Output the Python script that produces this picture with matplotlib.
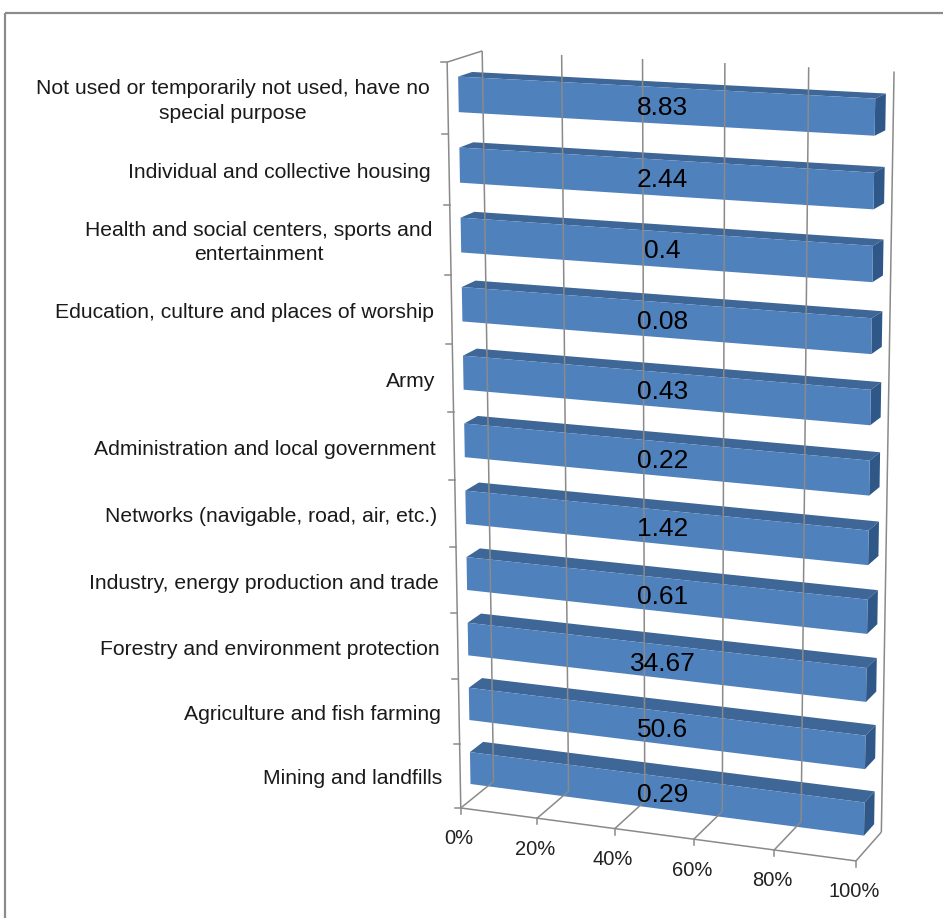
import matplotlib.pyplot as plt
import numpy as np
from matplotlib.patches import Polygon, Rectangle

plt.rcParams['font.family'] = ['Liberation Sans', 'DejaVu Sans']

# Kategorien von oben nach unten
categories = [
    "Not used or temporarily not used, have no\nspecial purpose",
    "Individual and collective housing",
    "Health and social centers, sports and\nentertainment",
    "Education, culture and places of worship",
    "Army",
    "Administration and local government",
    "Networks (navigable, road, air, etc.)",
    "Industry, energy production and trade",
    "Forestry and environment protection",
    "Agriculture and fish farming",
    "Mining and landfills",
]
values = [8.83, 2.44, 0.4, 0.08, 0.43, 0.22, 1.42, 0.61, 34.67, 50.6, 0.29]
x_ticks = [0, 20, 40, 60, 80, 100]
x_tick_labels = ["0%", "20%", "40%", "60%", "80%", "100%"]

W, H = 943, 918

# Ankerpunkte der 3D-Ansicht: (X-Anteil, Hoehe, Tiefe) -> Pixel
anchors = np.array([
    (0, 1, 0, 447, 62), (0, 0, 0, 462, 805), (1, 0, 0, 855, 860),
    (0.2, 0, 0, 537, 818), (0.4, 0, 0, 615, 832), (0.6, 0, 0, 695, 842),
    (0.8, 0, 0, 773, 850), (0, 1, 1, 482, 52), (0.2, 1, 1, 563, 55),
    (0.4, 1, 1, 642, 58), (0.6, 1, 1, 725, 63), (0.8, 1, 1, 808, 67),
    (1, 1, 1, 895, 72), (0, 0, 1, 492, 783), (1, 0, 1, 882, 830),
    (0, 10 / 11, 0, 448, 135), (0, 9 / 11, 0, 449, 203),
    (0, 2 / 11, 0, 459, 678), (0, 1 / 11, 0, 460, 743),
])

# DLT-Fit der Projektionsmatrix
A, b = [], []
for X, Y, Z, u, v in anchors:
    A.append([X, Y, Z, 1, 0, 0, 0, 0, -u * X, -u * Y, -u * Z])
    A.append([0, 0, 0, 0, X, Y, Z, 1, -v * X, -v * Y, -v * Z])
    b += [u, v]
p = np.linalg.lstsq(np.array(A), np.array(b), rcond=None)[0]
P = np.append(p, 1).reshape(3, 4)


def proj(X, Y, Z):
    q = P @ np.array([X, Y, Z, 1.0])
    return q[0] / q[2], q[1] / q[2]


fig = plt.figure(figsize=(W / 100, H / 100), dpi=100)
ax = fig.add_axes([0, 0, 1, 1])
ax.set_xlim(0, W)
ax.set_ylim(H, 0)
ax.axis('off')

# Rahmen
ax.add_patch(Rectangle((5, 13), W + 20, H + 20, fill=False, edgecolor='#8c8c8c', linewidth=1.6))

grid_c = '#8a8a8a'


def line(p1, p2, **kw):
    a, c = proj(*p1), proj(*p2)
    ax.plot([a[0], c[0]], [a[1], c[1]], color=grid_c, linewidth=1.1, solid_capstyle='butt', **kw)


n = len(categories)
# Gitter an Rueckwand und Boden
for t in x_ticks:
    f = t / 100
    line((f, 0, 1), (f, 1, 1))
    line((f, 0, 0), (f, 0, 1))
    a = proj(f, 0, 0)
    ax.plot([a[0], a[0]], [a[1], a[1] + 6], color=grid_c, linewidth=1.1)
line((0, 0, 0), (0, 1, 0))
line((0, 1, 0), (0, 1, 1))
line((0, 0, 0), (1, 0, 0))
for k in range(n + 1):
    a = proj(0, k / n, 0)
    ax.plot([a[0] - 6, a[0]], [a[1], a[1]], color=grid_c, linewidth=1.1)

# Achsenbeschriftung
for t, lab in zip(x_ticks, x_tick_labels):
    a = proj(t / 100, 0, 0)
    ax.text(a[0] - 2, a[1] + 31, lab, ha='center', va='center', fontsize=14.5, color='#222222')

# Balken (100 % gestapelt, eine Reihe)
z0, z1 = 0.3, 0.7
half = 0.25 / n
for i in range(n - 1, -1, -1):
    share = values[i] / values[i] * 100
    yc = 1 - (i + 0.5) / n
    x0, x1 = 0, share / 100
    y0, y1 = yc - half, yc + half
    front = [proj(x0, y0, z0), proj(x1, y0, z0), proj(x1, y1, z0), proj(x0, y1, z0)]
    top = [proj(x0, y1, z0), proj(x1, y1, z0), proj(x1, y1, z1), proj(x0, y1, z1)]
    side = [proj(x1, y0, z0), proj(x1, y0, z1), proj(x1, y1, z1), proj(x1, y1, z0)]
    ax.add_patch(Polygon(top, closed=True, facecolor='#3e6696', edgecolor='none'))
    ax.add_patch(Polygon(side, closed=True, facecolor='#2f5787', edgecolor='none'))
    ax.add_patch(Polygon(front, closed=True, facecolor='#4f81bd', edgecolor='none'))
    c = proj(0.5, yc, z0)
    ax.text(c[0], c[1] + 2, f"{values[i]:g}", ha='center', va='center', fontsize=19, color='black')
    lp = proj(0, yc, 0)
    ax.text(lp[0] - 18, lp[1] + 3, categories[i], ha='right', va='center', multialignment='center',
            fontsize=15.2, color='#1a1a1a', linespacing=1.35)

fig.savefig('out.png', dpi=100)
